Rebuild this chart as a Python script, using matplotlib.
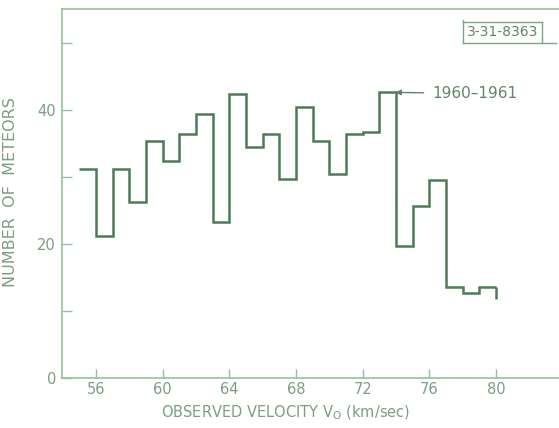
import numpy as np
import matplotlib
matplotlib.use("Agg")
import matplotlib.pyplot as plt
from matplotlib.lines import Line2D

# velocity bins (km/sec), one per km/sec from 55 to 80
bin_edges = [55, 56, 57, 58, 59, 60, 61, 62, 63, 64, 65, 66, 67, 68, 69,
             70, 71, 72, 73, 74, 75, 76, 77, 78, 79, 80]
# number of meteors per bin
meteor_counts = [31.2, 21.2, 31.2, 26.2, 35.3, 32.4, 36.4, 39.3, 23.3, 42.3,
                 34.5, 36.4, 29.6, 40.4, 35.4, 30.4, 36.4, 36.7, 42.6, 19.6,
                 25.6, 29.5, 13.5, 12.6, 13.5]
tail_end = 11.7  # short drop at the right end of the outline

x_ticks = [56, 60, 64, 68, 72, 76, 80]
y_ticks = [0, 10, 20, 30, 40, 50]
y_ticklabels = ["0", "", "20", "", "40", ""]

label_text = "1960\u20131961"
plate_id = "3-31-8363"

line_col = "#4e7b57"
axis_col = "#93c397"
text_col = "#7f9c84"

fig = plt.figure(figsize=(5.59, 4.28), dpi=100)
ax = fig.add_axes([61.5 / 559, 1 - 377.7 / 428, 1 - 61.5 / 559, (377.7 - 9.3) / 428])

ax.stairs(meteor_counts, bin_edges, baseline=None, color=line_col, lw=1.8)
ax.plot([bin_edges[-1], bin_edges[-1]], [meteor_counts[-1], tail_end],
        color=line_col, lw=1.8, solid_capstyle="butt")

ax.set_xlim(53.93, 83.77)
ax.set_ylim(0, 55)

ax.set_xticks(x_ticks)
ax.set_yticks(y_ticks)
ax.set_yticklabels(y_ticklabels)
ax.tick_params(axis="x", direction="in", length=6.5, width=1, color=axis_col,
               labelcolor=text_col, labelsize=10.5, pad=3)
ax.tick_params(axis="y", direction="in", length=7.5, width=1, color=axis_col,
               labelcolor=text_col, labelsize=10.5, pad=4)

for side in ["left", "top", "bottom"]:
    ax.spines[side].set_color(axis_col)
    ax.spines[side].set_linewidth(1.2)
ax.spines["right"].set_visible(False)

ax.set_xlabel("OBSERVED VELOCITY V$_{\\mathrm{O}}$ (km/sec)", color=text_col,
              fontsize=10.5)
ax.xaxis.set_label_coords(0.451, -0.07)
ax.set_ylabel("NUMBER  OF  METEORS", color=text_col, fontsize=11.5)
ax.yaxis.set_label_coords(-0.087, 0.503)

ax.annotate(label_text, xy=(bin_edges[19] - 0.05, meteor_counts[18]),
            xytext=(76.15, meteor_counts[18] - 0.2),
            ha="left", va="center", fontsize=11, color="#62836a",
            arrowprops=dict(arrowstyle="-|>", color="#62836a", lw=1,
                            mutation_scale=8, shrinkA=4, shrinkB=0))

# plate number box at the top right
W, H = 559.0, 428.0
box_lines = [
    [(463, 20), (463, 43)],
    [(463, 21.7), (542, 21.7)],
    [(542, 21.7), (542, 43)],
    [(463, 43), (556, 43)],
]
for pts in box_lines:
    xs = [p[0] / W for p in pts]
    ys = [1 - p[1] / H for p in pts]
    fig.add_artist(Line2D(xs, ys, color="#7fa585", lw=1, transform=fig.transFigure))
fig.text(502.5 / W, 1 - 32.5 / H, plate_id, ha="center", va="center",
         fontsize=10, color="#62836a")

fig.savefig("out.png", dpi=100)
